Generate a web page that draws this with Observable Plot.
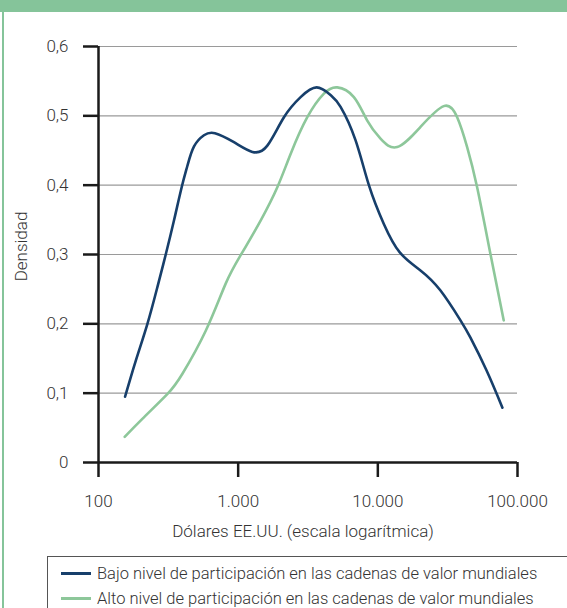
<!DOCTYPE html>
<html><head><meta charset="utf-8">
<script src="https://cdn.jsdelivr.net/npm/d3@7"></script>
<script src="https://cdn.jsdelivr.net/npm/@observablehq/plot@0.6"></script>
<style>
body{margin:0;background:#fff}
#wrap{position:relative;width:567px;height:608px;overflow:hidden;background:#fff;font-family:Roboto,"Liberation Sans",Arial,sans-serif;font-weight:300;color:#333}
#bar{position:absolute;left:0;top:0;width:567px;height:12px;background:#85c49a}
#lb{position:absolute;left:2px;top:0;width:1.5px;height:608px;background:#85c49a}
#chart{position:absolute;left:0;top:12px}
#chart text{font-weight:300}
#legend{position:absolute;left:47px;top:556px;width:540px;height:80px;border:1px solid #555;box-sizing:border-box}
.item{position:absolute;left:13px;height:20px;font-size:16.5px;line-height:20px;white-space:nowrap;color:#333}
.item span.sw{display:inline-block;width:30px;height:2.5px;vertical-align:middle;margin-right:6px;position:relative;top:-1px}
</style></head>
<body>
<div id="wrap">
  <div id="bar"></div>
  <div id="lb"></div>
  <div id="chart"></div>
  <div id="legend"></div>
</div>
<script>
// Data
const lowX  = [155, 185, 224, 264, 303, 347, 394, 433, 483, 569, 682, 933, 1264, 1617, 2127, 2800, 3645, 4590, 5410, 6920, 8630, 11040, 14360, 20200, 28100, 39060, 46040, 59950, 78000];
const lowY  = [0.095, 0.147, 0.200, 0.253, 0.300, 0.349, 0.397, 0.428, 0.456, 0.472, 0.475, 0.462, 0.448, 0.457, 0.498, 0.527, 0.541, 0.53, 0.513, 0.465, 0.40, 0.344, 0.303, 0.277, 0.248, 0.205, 0.18, 0.133, 0.079];
const highX = [154, 206, 312, 399, 586, 814, 1042, 1448, 1907, 2374, 3126, 4111, 5124, 6735, 8400, 10450, 13760, 20200, 29650, 36980, 43600, 51400, 63970, 79650];
const highY = [0.037, 0.063, 0.099, 0.128, 0.19, 0.258, 0.299, 0.349, 0.397, 0.445, 0.498, 0.532, 0.541, 0.527, 0.493, 0.467, 0.455, 0.484, 0.514, 0.498, 0.455, 0.397, 0.301, 0.205];
const seriesNames = ["Bajo nivel de participación en las cadenas de valor mundiales", "Alto nivel de participación en las cadenas de valor mundiales"];
const seriesColors = ["#173f6b", "#8dc79a"];
const xTicks = [100, 1000, 10000, 100000];
const xTickLabels = ["100", "1.000", "10.000", "100.000"];
const yTicks = [0, 0.1, 0.2, 0.3, 0.4, 0.5, 0.6];
const yTickLabels = ["0", "0,1", "0,2", "0,3", "0,4", "0,5", "0,6"];
const xLabel = "Dólares EE.UU. (escala logarítmica)";
const yLabel = "Densidad";

const low = lowX.map((x, i) => ({x, y: lowY[i]}));
const high = highX.map((x, i) => ({x, y: highY[i]}));

const chart = Plot.plot({
  width: 567,
  height: 540,
  marginLeft: 98,
  marginRight: 50,
  marginTop: 34,
  marginBottom: 90,
  style: {fontFamily: 'Roboto, "Liberation Sans", Arial, sans-serif', fontSize: "17px", color: "#333", background: "transparent"},
  x: {type: "log", domain: [100, 100000]},
  y: {domain: [0, 0.6]},
  marks: [
    Plot.gridY(yTicks, {stroke: "#9a9a9a", strokeOpacity: 1, strokeWidth: 1.2}),
    Plot.axisY({ticks: yTicks, tickFormat: d => yTickLabels[yTicks.indexOf(d)], tickSize: 15, tickPadding: 15, stroke: "#1a1a1a", strokeWidth: 2.5, label: null, fontSize: 17}),
    Plot.axisX({ticks: xTicks, tickFormat: d => xTickLabels[xTicks.indexOf(d)], tickSize: 15, tickPadding: 17, stroke: "#1a1a1a", strokeWidth: 2.5, label: null, fontSize: 17}),
    Plot.ruleY([0], {stroke: "#1a1a1a", strokeWidth: 2.5}),
    Plot.ruleX([100], {stroke: "#1a1a1a", strokeWidth: 2.5}),
    Plot.line(high, {x: "x", y: "y", stroke: seriesColors[1], strokeWidth: 2.6, curve: "natural"}),
    Plot.line(low, {x: "x", y: "y", stroke: seriesColors[0], strokeWidth: 2.6, curve: "natural"}),
    Plot.text([xLabel], {frameAnchor: "bottom", dy: 74, dx: -5, fontSize: 17, fill: "#333"}),
    Plot.text([yLabel], {frameAnchor: "left", textAnchor: "middle", dx: -77, dy: -8, rotate: -90, fontSize: 17, fill: "#333"})
  ]
});
document.getElementById("chart").appendChild(chart);

const legend = document.getElementById("legend");
seriesNames.forEach((name, i) => {
  const d = document.createElement("div");
  d.className = "item";
  d.style.top = (7 + i * 25) + "px";
  d.innerHTML = `<span class="sw" style="background:${seriesColors[i]}"></span>${name}`;
  legend.appendChild(d);
});
</script>
</body></html>
